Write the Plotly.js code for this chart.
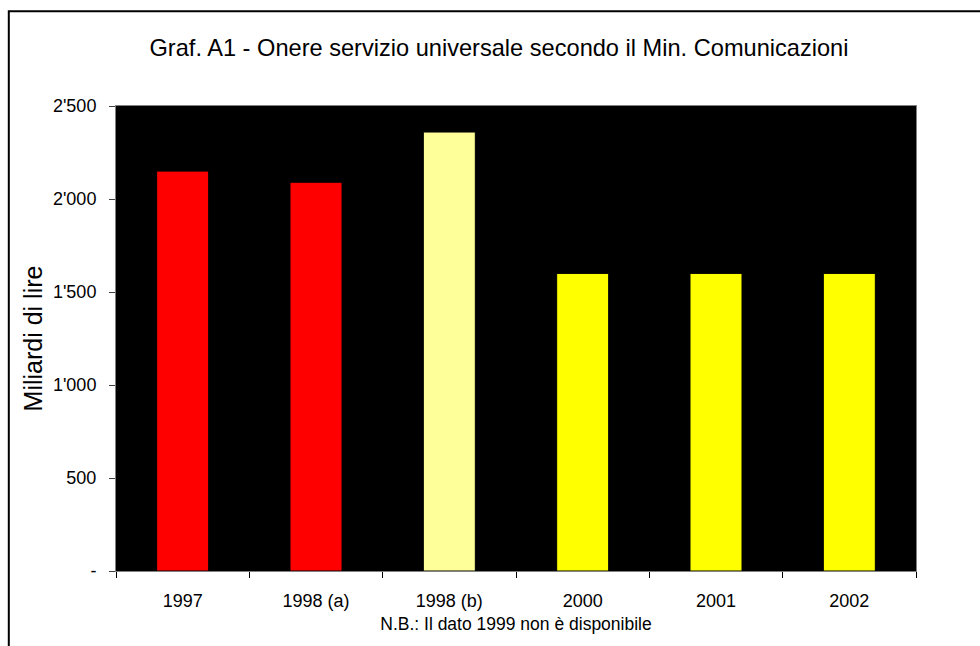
<!DOCTYPE html>
<html>
<head>
<meta charset="utf-8">
<script src="https://cdn.plot.ly/plotly-3.0.1.min.js"></script>
<style>
  html, body { margin: 0; padding: 0; background: #ffffff; }
  #chart { width: 980px; height: 646px; }
</style>
</head>
<body>
<div id="chart"></div>
<script>
// Onere del servizio universale (miliardi di lire)
const categories = ["1997", "1998 (a)", "1998 (b)", "2000", "2001", "2002"];
const values = [2150, 2090, 2360, 1600, 1600, 1600];
const barColors = ["#FF0000", "#FF0000", "#FFFF99", "#FFFF00", "#FFFF00", "#FFFF00"];

const yTickVals = [0, 500, 1000, 1500, 2000, 2500];
const yTickText = ["-", "500", "1'000", "1'500", "2'000", "2'500"];

const FONT = "Liberation Sans, Arial, sans-serif";

const trace = {
  type: "bar",
  x: categories,
  y: values,
  marker: { color: barColors, line: { color: "#000000", width: 1 } },
  hoverinfo: "x+y"
};

const layout = {
  width: 980,
  height: 646,
  margin: { l: 116, r: 64, t: 106, b: 75, pad: 0 },
  paper_bgcolor: "#ffffff",
  plot_bgcolor: "#000000",
  font: { family: FONT, size: 18, color: "#000000" },
  bargap: 0.61,
  showlegend: false,
  title: {
    text: "Graf. A1 - Onere servizio universale secondo il Min. Comunicazioni",
    font: { family: FONT, size: 23.6, color: "#000000" },
    x: 499 / 980, xanchor: "center", xref: "container",
    y: 1 - 48 / 646, yanchor: "middle", yref: "container"
  },
  xaxis: {
    type: "category",
    tickson: "boundaries",
    ticks: "outside",
    ticklen: 6,
    tickcolor: "#000000",
    ticklabelstandoff: 13,
    tickfont: { family: FONT, size: 18, color: "#000000" },
    showline: true,
    linecolor: "#808080",
    linewidth: 1,
    mirror: true,
    showgrid: false,
    zeroline: false,
    title: {
      text: "N.B.: Il dato 1999 non è disponibile",
      font: { family: FONT, size: 17.5, color: "#000000" },
      standoff: 8
    }
  },
  yaxis: {
    range: [0, 2500],
    tickvals: yTickVals,
    ticktext: yTickText,
    ticks: "outside",
    ticklen: 6,
    tickcolor: "#404040",
    ticklabelstandoff: 9,
    tickfont: { family: FONT, size: 18, color: "#000000" },
    showline: true,
    linecolor: "#808080",
    linewidth: 1,
    mirror: true,
    showgrid: false,
    zeroline: false,
    title: {
      text: "Miliardi di lire",
      font: { family: FONT, size: 25, color: "#000000" },
      standoff: 3
    }
  },
  shapes: [
    {
      type: "path",
      xref: "paper", yref: "paper",
      path: "M 1.2 1.2035 L -0.134 1.2035 L -0.134 -0.2",
      line: { color: "#000000", width: 2 },
      layer: "above"
    }
  ]
};

Plotly.newPlot("chart", [trace], layout, { displayModeBar: false, staticPlot: true });
</script>
</body>
</html>
